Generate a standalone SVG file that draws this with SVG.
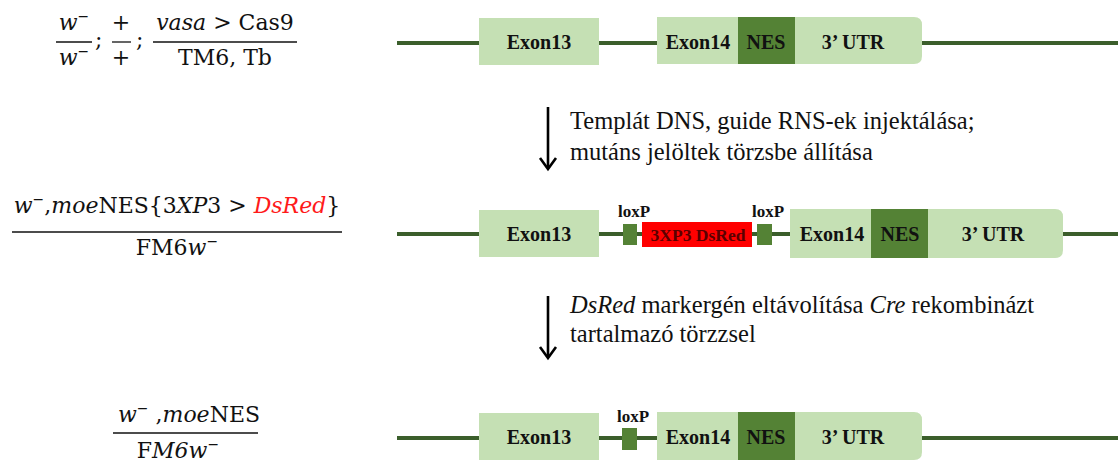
<svg xmlns="http://www.w3.org/2000/svg" width="1118" height="463" viewBox="0 0 1118 463">
  <style>
    .math { font-family: "DejaVu Serif", "Liberation Serif", serif; font-size: 22px; fill: #111; }
    .it { font-style: italic; }
    .sup { font-size: 14px; }
    .bar { stroke: #111; stroke-width: 1.3; }
    .strand { stroke: #3b5e2b; stroke-width: 4; fill: none; }
    .exon { fill: #c5e0b4; }
    .nes { fill: #548235; }
    .lox { fill: #548235; }
    .lbl { font-family: "Liberation Serif", serif; font-weight: bold; font-size: 20px; fill: #111; text-anchor: middle; }
    .cassette { font-family: "Liberation Serif", serif; font-weight: bold; font-size: 17.5px; fill: #5a0000; text-anchor: middle; }
    .loxlbl { font-family: "Liberation Serif", serif; font-weight: bold; font-size: 17px; fill: #111; text-anchor: middle; }
    .step { font-family: "Liberation Serif", serif; font-size: 24.5px; fill: #111; }
    .arrow { stroke: #000; stroke-width: 2.6; fill: none; }
  </style>

  <!-- genotypes -->
  <g id="genotype-1">
    <text class="math" x="74" y="30" text-anchor="middle"><tspan class="it">w</tspan><tspan class="sup" dy="-9">−</tspan></text>
    <line class="bar" x1="56" y1="42" x2="92" y2="42"/>
    <text class="math" x="74" y="65" text-anchor="middle"><tspan class="it">w</tspan><tspan class="sup" dy="-9">−</tspan></text>
    <text class="math" x="95" y="47">;</text>
    <text class="math" x="121" y="30" text-anchor="middle">+</text>
    <line class="bar" x1="112" y1="42" x2="131" y2="42"/>
    <text class="math" x="121" y="65" text-anchor="middle">+</text>
    <text class="math" x="136" y="47">;</text>
    <text class="math" x="225" y="30" text-anchor="middle"><tspan class="it">vasa</tspan> &gt; Cas9</text>
    <line class="bar" x1="153" y1="42" x2="297" y2="42"/>
    <text class="math" x="225" y="65" text-anchor="middle">TM6, Tb</text>
  </g>

  <g id="genotype-2">
    <text class="math" x="177" y="213" text-anchor="middle"><tspan class="it">w</tspan><tspan class="sup" dy="-9">−</tspan><tspan dy="9">,</tspan><tspan class="it">moe</tspan>NES{3<tspan class="it">XP</tspan>3 &gt; <tspan class="it" fill="#ff1a1a">DsRed</tspan>}</text>
    <line class="bar" x1="12" y1="232" x2="342" y2="232"/>
    <text class="math" x="177" y="255" text-anchor="middle">FM6<tspan class="it">w</tspan><tspan class="sup" dy="-9">−</tspan></text>
  </g>

  <g id="genotype-3">
    <text class="math" x="189" y="422" text-anchor="middle"><tspan class="it">w</tspan><tspan class="sup" dy="-9">−</tspan><tspan dy="9"> ,</tspan><tspan class="it">moe</tspan>NES</text>
    <line class="bar" x1="113" y1="433" x2="258" y2="433"/>
    <text class="math" x="178" y="458" text-anchor="middle">F<tspan class="it">M6w</tspan><tspan class="sup" dy="-9">−</tspan></text>
  </g>

  <!-- strands (connectors) -->
  <g id="strands">
    <line class="strand" x1="397" y1="43" x2="479" y2="43"/>
    <line class="strand" x1="599" y1="43" x2="657" y2="43"/>
    <line class="strand" x1="922" y1="43" x2="1118" y2="43"/>

    <line class="strand" x1="397" y1="234" x2="479" y2="234"/>
    <line class="strand" x1="599" y1="234" x2="790" y2="234"/>
    <line class="strand" x1="1063" y1="234" x2="1118" y2="234"/>

    <line class="strand" x1="397" y1="438" x2="479" y2="438"/>
    <line class="strand" x1="599" y1="438" x2="657" y2="438"/>
    <line class="strand" x1="922" y1="438" x2="1118" y2="438"/>
  </g>

  <!-- row 1: wild type locus -->
  <g id="row1-exon13">
    <rect class="exon" x="479" y="18" width="120" height="47"/>
    <text class="lbl" x="539" y="49">Exon13</text>
  </g>
  <g id="row1-exon14">
    <path class="exon" d="M657 17 H914 Q922 17 922 25 V56 Q922 64 914 64 H657 Z"/>
    <rect class="nes" x="738" y="17" width="57" height="47"/>
    <text class="lbl" x="698" y="49">Exon14</text>
    <text class="lbl" x="766" y="49">NES</text>
    <text class="lbl" x="853" y="49">3’ UTR</text>
  </g>

  <!-- row 2: knock-in with DsRed cassette -->
  <g id="row2-exon13">
    <rect class="exon" x="479" y="210" width="120" height="47"/>
    <text class="lbl" x="539" y="241">Exon13</text>
  </g>
  <g id="row2-loxp1">
    <rect class="lox" x="623" y="224" width="14" height="21"/>
    <text class="loxlbl" x="634" y="217">loxP</text>
  </g>
  <g id="row2-dsred">
    <rect x="642" y="222" width="110" height="25" fill="#ff0000"/>
    <text class="cassette" x="698" y="241">3XP3 DsRed</text>
  </g>
  <g id="row2-loxp2">
    <rect class="lox" x="757" y="224" width="15" height="21"/>
    <text class="loxlbl" x="768" y="217">loxP</text>
  </g>
  <g id="row2-exon14">
    <path class="exon" d="M790 209 H1055 Q1063 209 1063 217 V250 Q1063 258 1055 258 H790 Z"/>
    <rect class="nes" x="871" y="209" width="57" height="49"/>
    <text class="lbl" x="832" y="241">Exon14</text>
    <text class="lbl" x="900" y="241">NES</text>
    <text class="lbl" x="993" y="241">3’ UTR</text>
  </g>

  <!-- row 3: after Cre excision -->
  <g id="row3-exon13">
    <rect class="exon" x="479" y="413" width="120" height="47"/>
    <text class="lbl" x="539" y="444">Exon13</text>
  </g>
  <g id="row3-loxp">
    <rect class="lox" x="622" y="428" width="15" height="22"/>
    <text class="loxlbl" x="633" y="422">loxP</text>
  </g>
  <g id="row3-exon14">
    <path class="exon" d="M657 412 H914 Q922 412 922 420 V452 Q922 460 914 460 H657 Z"/>
    <rect class="nes" x="738" y="412" width="57" height="48"/>
    <text class="lbl" x="698" y="444">Exon14</text>
    <text class="lbl" x="766" y="444">NES</text>
    <text class="lbl" x="853" y="444">3’ UTR</text>
  </g>

  <!-- process steps -->
  <g id="step-1">
    <line class="arrow" x1="548" y1="107" x2="548" y2="168"/>
    <polyline class="arrow" points="540,158 548,169 556,158"/>
    <text class="step" x="570" y="129">Templát DNS, guide RNS-ek injektálása;</text>
    <text class="step" x="570" y="160">mutáns jelöltek törzsbe állítása</text>
  </g>
  <g id="step-2">
    <line class="arrow" x1="548" y1="296" x2="548" y2="357"/>
    <polyline class="arrow" points="540,347 548,358 556,347"/>
    <text class="step" x="570" y="313"><tspan font-style="italic">DsRed</tspan> markergén eltávolítása <tspan font-style="italic">Cre</tspan> rekombinázt</text>
    <text class="step" x="570" y="342">tartalmazó törzzsel</text>
  </g>
</svg>
